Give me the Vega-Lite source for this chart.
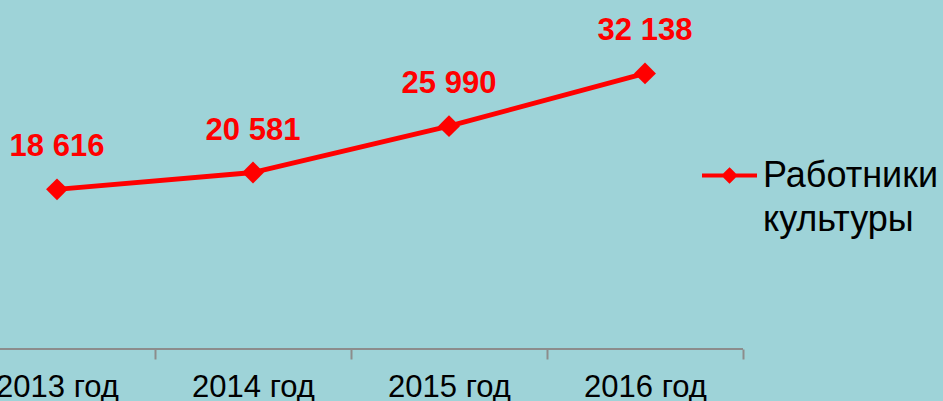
{
  "$schema": "https://vega.github.io/schema/vega-lite/v6.json",
  "width": 943,
  "height": 343,
  "padding": {"left": 0, "top": 6, "right": 0, "bottom": 52},
  "autosize": {"type": "none"},
  "background": "#9ED3D8",
  "config": {
    "view": {"stroke": null},
    "style": {"guide-label": {"lineHeight": 44}},
    "locale": {"number": {"decimal": ",", "thousands": " ", "grouping": [3], "currency": ["", ""]}}
  },
  "data": {
    "values": [
      {"year": 2013, "value": 18616, "series": "Работники культуры"},
      {"year": 2014, "value": 20581, "series": "Работники культуры"},
      {"year": 2015, "value": 25990, "series": "Работники культуры"},
      {"year": 2016, "value": 32138, "series": "Работники культуры"}
    ]
  },
  "layer": [
    {
      "mark": {"type": "rule", "color": "#8C8C8C", "strokeWidth": 2},
      "encoding": {
        "x": {
          "datum": 2012.7092,
          "type": "quantitative",
          "scale": {"domain": [2012.7092, 2017.5204], "nice": false, "zero": false},
          "axis": {
            "orient": "bottom",
            "values": [2013.5, 2014.5, 2015.5, 2016.5],
            "labels": false,
            "domain": false,
            "grid": false,
            "ticks": true,
            "tickSize": 10,
            "tickWidth": 2,
            "tickColor": "#8C8C8C",
            "title": null
          }
        },
        "x2": {"datum": 2016.5},
        "y": {
          "datum": 0,
          "type": "quantitative",
          "scale": {"domain": [0, 40000], "nice": false},
          "axis": null
        }
      }
    },
    {
      "mark": {
        "type": "line",
        "strokeWidth": 5,
        "point": {"shape": "diamond", "size": 480, "filled": true, "color": "#FF0000", "opacity": 1}
      },
      "encoding": {
        "x": {
          "field": "year",
          "type": "quantitative",
          "axis": {
            "orient": "bottom",
            "values": [2013, 2014, 2015, 2016],
            "labelExpr": "datum.value + ' год'",
            "domain": false,
            "grid": false,
            "ticks": false,
            "labelPadding": 23,
            "labelFont": "Liberation Sans",
            "labelFontSize": 31,
            "labelColor": "#000000",
            "labelOverlap": false,
            "labelFlush": false,
            "title": null
          }
        },
        "y": {"field": "value", "type": "quantitative", "axis": null},
        "color": {
          "field": "series",
          "type": "nominal",
          "scale": {"range": ["#FF0000"]},
          "legend": {
            "orient": "none",
            "legendX": 700,
            "legendY": 140,
            "title": null,
            "symbolType": "M-1,0H1M0,-0.2L0.2,0L0,0.2L-0.2,0Z",
            "symbolSize": 3025,
            "symbolStrokeWidth": 4,
            "symbolFillColor": "#FF0000",
            "symbolStrokeColor": "#FF0000",
            "labelExpr": "split(datum.label, ' ')",
            "labelFont": "Liberation Sans",
            "labelFontSize": 36,
            "labelColor": "#000000",
            "labelLimit": 400,
            "labelOffset": 4
          }
        }
      }
    },
    {
      "mark": {
        "type": "text",
        "dy": -33,
        "baseline": "alphabetic",
        "font": "Liberation Sans",
        "fontSize": 31,
        "fontWeight": "bold",
        "color": "#FF0000"
      },
      "encoding": {
        "x": {"field": "year", "type": "quantitative", "axis": null},
        "y": {"field": "value", "type": "quantitative"},
        "text": {"field": "value", "type": "quantitative", "format": ","}
      }
    }
  ],
  "resolve": {"axis": {"x": "independent"}}
}
